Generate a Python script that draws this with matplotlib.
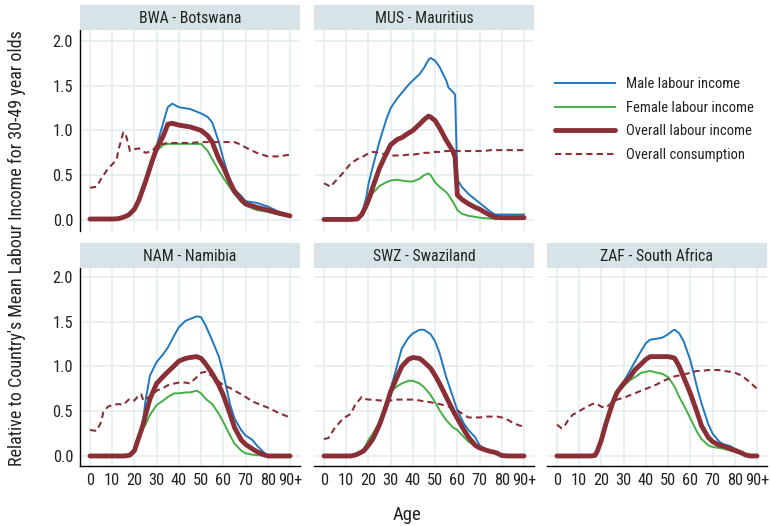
import numpy as np
import matplotlib
matplotlib.use('Agg')
import matplotlib.pyplot as plt
import matplotlib.font_manager as fm

# ages and curves, one set per country
bwa_age = [0, 3, 5, 8, 10, 12, 13, 15, 16, 17, 18, 20, 22, 25, 28, 30, 33, 35, 37, 40,
           45, 50, 53, 55, 58, 60, 63, 65, 68, 70, 75, 80, 85, 90]
bwa_male = [.01, .01, .01, .01, .01, .012, .015, .03, .04, .05, .07, .12, .22, .44, .68, .83, 1.09, 1.26, 1.30, 1.26,
            1.24, 1.19, 1.15, 1.09, .87, .68, .44, .34, .27, .21, .19, .15, .09, .045]
bwa_female = [.01, .01, .01, .01, .01, .012, .015, .03, .04, .05, .07, .12, .22, .42, .65, .77, .84, .85, .85, .85,
              .85, .85, .77, .68, .55, .47, .36, .29, .20, .16, .11, .09, .06, .04]
bwa_total = [.01, .01, .01, .01, .01, .012, .015, .03, .04, .05, .07, .12, .22, .43, .66, .80, .94, 1.07, 1.08, 1.06,
             1.04, 1.00, .94, .87, .68, .59, .42, .32, .23, .18, .14, .11, .075, .045]
bwa_cons = [.36, .37, .46, .57, .62, .68, .80, .98, .96, .87, .77, .79, .80, .75, .77, .83, .85, .86, .86, .86,
            .86, .87, .87, .87, .87, .87, .87, .87, .84, .81, .75, .71, .71, .73]

mus_age = [0, 3, 5, 8, 10, 12, 15, 17, 19, 20, 22, 25, 28, 30, 33, 35, 38, 40, 43, 45,
           47, 48, 50, 52, 55, 56, 58, 59, 60, 62, 65, 68, 70, 72, 75, 77, 80, 85, 90]
mus_male = [.005, .005, .005, .005, .005, .005, .01, .06, .25, .40, .60, .88, 1.12, 1.25, 1.36, 1.42, 1.51, 1.56, 1.63, 1.70,
            1.79, 1.81, 1.78, 1.71, 1.56, 1.48, 1.43, 1.40, .45, .37, .29, .23, .19, .15, .09, .06, .06, .06, .06]
mus_female = [.005, .005, .005, .005, .005, .005, .008, .05, .15, .20, .30, .38, .42, .44, .45, .44, .43, .43, .46, .50,
              .52, .50, .42, .37, .31, .28, .20, .16, .11, .07, .045, .035, .025, .02, .015, .012, .01, .01, .01]
mus_total = [.005, .005, .005, .005, .005, .005, .01, .06, .16, .22, .37, .58, .74, .84, .90, .92, .97, 1.00, 1.07, 1.12,
             1.16, 1.15, 1.11, 1.03, .89, .85, .77, .70, .28, .23, .18, .14, .12, .09, .05, .03, .025, .025, .025]
mus_cons = [.41, .37, .43, .51, .57, .63, .68, .70, .73, .74, .76, .75, .73, .72, .72, .72, .73, .73, .74, .75,
            .75, .75, .76, .76, .77, .77, .77, .77, .77, .77, .77, .77, .77, .77, .78, .78, .78, .78, .78]

nam_age = [0, 3, 5, 6, 8, 10, 13, 15, 17, 18, 20, 22, 23, 24, 25, 27, 30, 33, 35, 38,
           40, 43, 45, 48, 50, 52, 55, 58, 60, 63, 65, 68, 70, 73, 75, 78, 80, 85, 90]
nam_male = [0, 0, 0, 0, 0, 0, 0, 0, .005, .01, .06, .21, .30, .42, .62, .90, 1.05, 1.14, 1.21, 1.35,
            1.44, 1.51, 1.53, 1.56, 1.55, 1.46, 1.29, 1.11, .92, .58, .42, .29, .23, .18, .12, .045, 0, 0, 0]
nam_female = [0, 0, 0, 0, 0, 0, 0, 0, .005, .01, .06, .20, .26, .31, .35, .46, .57, .62, .66, .70,
              .70, .71, .71, .73, .70, .64, .58, .47, .38, .23, .14, .06, .03, .015, .01, .005, 0, 0, 0]
nam_total = [0, 0, 0, 0, 0, 0, 0, 0, .005, .01, .06, .21, .28, .36, .46, .64, .81, .89, .94, 1.01,
             1.06, 1.09, 1.10, 1.11, 1.09, 1.03, .92, .79, .68, .47, .32, .18, .13, .08, .05, .015, 0, 0, 0]
nam_cons = [.29, .28, .38, .49, .55, .57, .58, .57, .62, .64, .62, .68, .69, .62, .64, .66, .73, .76, .79, .81,
            .82, .82, .81, .88, .93, .94, .89, .83, .79, .76, .73, .69, .66, .61, .59, .56, .54, .48, .43]

swz_age = [0, 2, 5, 8, 10, 12, 14, 15, 17, 18, 20, 22, 25, 28, 30, 33, 35, 38, 40, 43,
           45, 48, 50, 52, 55, 58, 60, 63, 65, 68, 70, 73, 75, 77, 78, 80, 83, 85, 88, 90]
swz_male = [0, 0, 0, 0, 0, 0, .01, .02, .045, .06, .11, .17, .33, .55, .75, 1.02, 1.20, 1.32, 1.37, 1.41,
            1.41, 1.36, 1.28, 1.15, .88, .66, .51, .36, .29, .21, .12, .07, .055, .04, .03, .005, 0, 0, 0, 0]
swz_female = [0, 0, 0, 0, 0, 0, .01, .02, .06, .08, .18, .25, .38, .60, .72, .78, .81, .84, .84, .81,
              .77, .68, .60, .51, .40, .32, .29, .21, .16, .11, .09, .06, .05, .04, .03, .005, 0, 0, 0, 0]
swz_total = [0, 0, 0, 0, 0, 0, .01, .02, .045, .06, .12, .19, .35, .56, .72, .89, 1.00, 1.08, 1.10, 1.09,
             1.05, .98, .90, .81, .66, .51, .42, .29, .21, .12, .09, .065, .05, .04, .03, .005, 0, 0, 0, 0]
swz_cons = [.19, .20, .32, .40, .44, .47, .57, .60, .66, .64, .63, .63, .62, .62, .62, .63, .63, .63, .63, .62,
            .61, .60, .59, .58, .56, .54, .51, .46, .43, .43, .43, .44, .44, .44, .44, .43, .40, .37, .34, .33]

zaf_age = [0, 2, 3, 5, 7, 10, 12, 15, 17, 18, 20, 22, 25, 27, 30, 33, 35, 38, 40, 42,
           45, 47, 48, 50, 52, 53, 55, 57, 60, 63, 65, 68, 70, 73, 75, 78, 80, 83, 85, 87, 90]
zaf_male = [0, 0, 0, 0, 0, 0, 0, 0, .005, .045, .18, .36, .59, .72, .83, .96, 1.05, 1.18, 1.26, 1.30,
            1.31, 1.32, 1.33, 1.36, 1.40, 1.41, 1.37, 1.28, 1.07, .77, .59, .36, .25, .16, .13, .11, .08, .045, .02, 0, 0]
zaf_female = [0, 0, 0, 0, 0, 0, 0, 0, .005, .045, .18, .36, .59, .70, .78, .85, .88, .93, .94, .95,
              .93, .92, .91, .88, .81, .77, .66, .57, .42, .27, .19, .12, .10, .09, .08, .06, .045, .026, .01, 0, 0]
zaf_total = [0, 0, 0, 0, 0, 0, 0, 0, .005, .045, .18, .36, .59, .71, .81, .89, .96, 1.03, 1.08, 1.11,
             1.11, 1.11, 1.11, 1.11, 1.10, 1.09, 1.00, .88, .70, .49, .34, .21, .16, .12, .11, .08, .063, .034, .01, 0, 0]
zaf_cons = [.35, .31, .32, .40, .46, .50, .53, .57, .59, .58, .55, .54, .60, .63, .65, .68, .70, .73, .75, .77,
            .80, .83, .84, .86, .88, .89, .90, .91, .93, .95, .95, .96, .96, .96, .95, .94, .93, .90, .86, .82, .75]

titles = ['BWA - Botswana', 'MUS - Mauritius', 'NAM - Namibia', 'SWZ - Swaziland', 'ZAF - South Africa']
x_ticks = [0, 10, 20, 30, 40, 50, 60, 70, 80, 90]
x_labels = ['0', '10', '20', '30', '40', '50', '60', '70', '80', '90+']
y_ticks = [0.0, 0.5, 1.0, 1.5, 2.0]
series_names = ['Male labour income', 'Female labour income', 'Overall labour income', 'Overall consumption']

# pick a narrow font if one is around
avail = {f.name for f in fm.fontManager.ttflist}
fam = 'DejaVu Sans'
for cand in ['Roboto Condensed', 'Open Sans Condensed', 'Liberation Sans Narrow', 'Noto Sans Condensed']:
    if cand in avail:
        fam = cand
        break
plt.rcParams['font.family'] = [fam, 'DejaVu Sans']
if fam == 'DejaVu Sans':
    plt.rcParams['font.stretch'] = 'condensed'

c_male = '#1f78c1'
c_female = '#44b044'
c_red = '#8b2f37'
c_grid = '#e2ecef'
c_strip = '#d8e3e8'
c_text = '#222222'

W, H = 770, 526
fig = plt.figure(figsize=(W / 100, H / 100), dpi=100)

col_x = [80, 314, 547]
panel_w = 220
rows = [(30, 231), (268, 466)]   # top, bottom of panel in pixels
strip_h = 25

panels = [
    (0, 0, bwa_age, bwa_male, bwa_female, bwa_total, bwa_cons),
    (0, 1, mus_age, mus_male, mus_female, mus_total, mus_cons),
    (1, 0, nam_age, nam_male, nam_female, nam_total, nam_cons),
    (1, 1, swz_age, swz_male, swz_female, swz_total, swz_cons),
    (1, 2, zaf_age, zaf_male, zaf_female, zaf_total, zaf_cons),
]

handles = None
for i, (r, c, age, male, female, total, cons) in enumerate(panels):
    top, bot = rows[r]
    x0 = col_x[c]
    ax = fig.add_axes([x0 / W, 1 - bot / H, panel_w / W, (bot - top) / H])
    sax = fig.add_axes([x0 / W, 1 - top / H, panel_w / W, strip_h / H])
    sax.set_facecolor(c_strip)
    sax.set_xticks([])
    sax.set_yticks([])
    for s in sax.spines.values():
        s.set_visible(False)
    sax.text(0.5, 0.45, titles[i], ha='center', va='center', fontsize=11.3, color=c_text,
             transform=sax.transAxes)

    h1, = ax.plot(age, male, color=c_male, lw=1.4)
    h2, = ax.plot(age, female, color=c_female, lw=1.4)
    h3, = ax.plot(age, total, color=c_red, lw=3.5, solid_capstyle='round')
    h4, = ax.plot(age, cons, color=c_red, lw=1.5, dashes=(3, 2))
    if handles is None:
        handles = [h1, h2, h3, h4]

    ax.set_xlim(-4.5, 94.5)
    if r == 0:
        ax.set_ylim(-0.124, 2.123)
    else:
        ax.set_ylim(-0.112, 2.10)
    ax.set_xticks(x_ticks)
    ax.set_yticks(y_ticks)
    ax.grid(True, color=c_grid, lw=1.1)
    ax.set_axisbelow(True)
    ax.tick_params(length=0, labelsize=11.8, labelcolor=c_text, pad=5)
    for s in ax.spines.values():
        s.set_visible(False)
    if c == 0:
        ax.spines['left'].set_visible(True)
        ax.spines['left'].set_color('black')
        ax.spines['left'].set_linewidth(1.0)
        ax.set_yticklabels(['0.0', '0.5', '1.0', '1.5', '2.0'])
    else:
        ax.set_yticklabels([])
    if r == 1:
        ax.spines['bottom'].set_visible(True)
        ax.spines['bottom'].set_color('black')
        ax.spines['bottom'].set_linewidth(1.0)
        ax.set_xticklabels(x_labels)
    else:
        ax.set_xticklabels([])

fig.legend(handles, series_names, loc='upper left', bbox_to_anchor=(555 / W, 1 - 77 / H),
           frameon=False, fontsize=10.5, handlelength=4.1, handletextpad=0.8,
           labelspacing=0.66, borderpad=0, borderaxespad=0, labelcolor=c_text)

fig.text(407 / W, 1 - 515 / H, 'Age', ha='center', va='center', fontsize=13.5, color=c_text)
fig.text(17 / W, 1 - 248 / H, "Relative to Country's Mean Labour Income for 30-49 year olds",
         ha='center', va='center', rotation=90, fontsize=13, color=c_text)

fig.savefig('out.png', dpi=100)
